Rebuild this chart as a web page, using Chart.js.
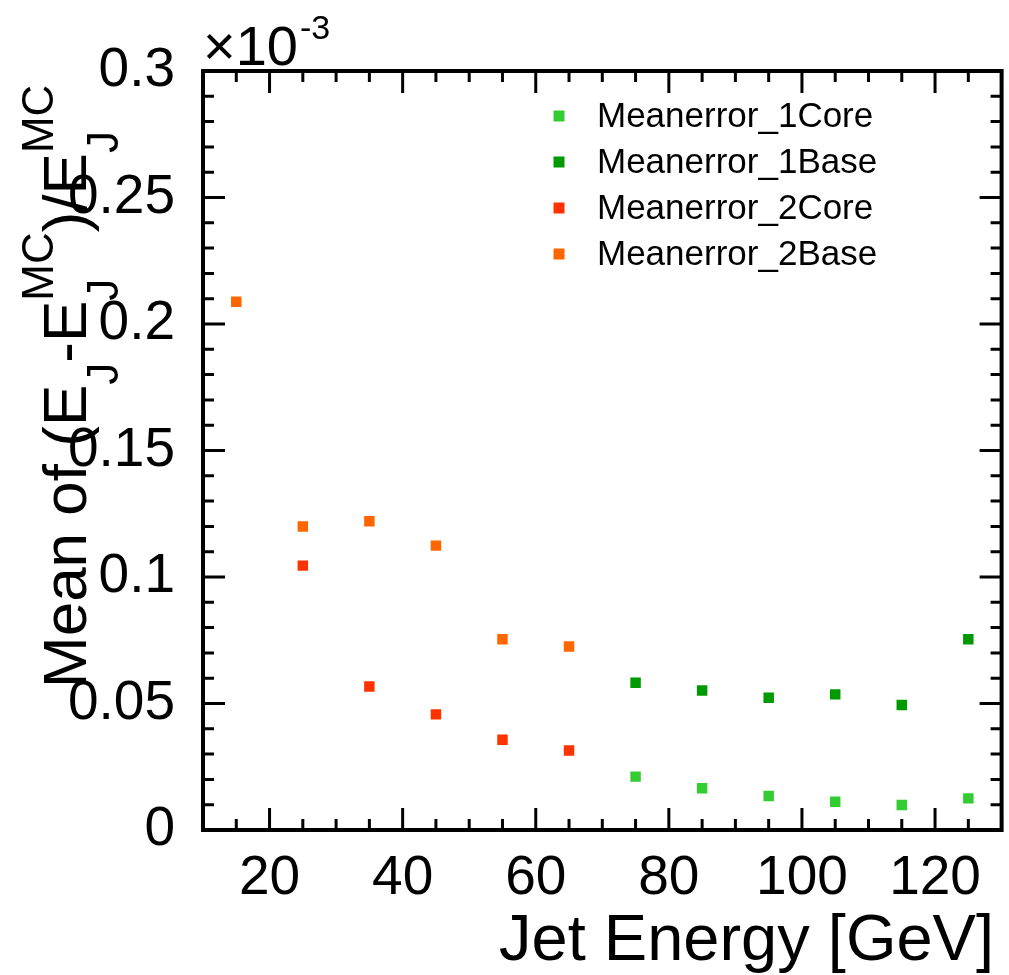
<!DOCTYPE html>
<html>
<head>
<meta charset="utf-8">
<script src="https://cdn.jsdelivr.net/npm/chart.js@4.4.1/dist/chart.umd.min.js"></script>
<style>
  body { margin: 0; background: #fff; }
</style>
</head>
<body>
<canvas id="c" width="1009" height="975"></canvas>
<script>
// data (values are in units of 1e-3)
var energy1 = [75, 85, 95, 105, 115, 125];
var core1 = [0.0211, 0.0165, 0.0134, 0.0112, 0.0099, 0.0125];
var base1 = [0.0582, 0.0551, 0.0523, 0.0536, 0.0494, 0.0754];
var energy2Core = [25, 35, 45, 55, 65];
var core2 = [0.1045, 0.0567, 0.0457, 0.0357, 0.0314];
var energy2Base = [15, 25, 35, 45, 55, 65];
var base2 = [0.2088, 0.1200, 0.1220, 0.1124, 0.0754, 0.0725];

var seriesNames = ["Meanerror_1Core", "Meanerror_1Base", "Meanerror_2Core", "Meanerror_2Base"];
var seriesColors = ["#33cc33", "#009900", "#ff3300", "#ff6600"];

var xTicks = [20, 40, 60, 80, 100, 120];
var yTicks = [0, 0.05, 0.1, 0.15, 0.2, 0.25, 0.3];

var FONT = "'Liberation Sans', Arial, Helvetica, sans-serif";

function pts(xs, ys) {
    return xs.map(function(x, i) { return {x: x, y: ys[i]}; });
}

function makeSet(i, xs, ys) {
    return {
        label: seriesNames[i],
        data: pts(xs, ys),
        pointStyle: 'rect',
        pointRadius: 7.4,
        pointHoverRadius: 7.4,
        borderWidth: 0,
        backgroundColor: seriesColors[i],
        borderColor: seriesColors[i],
        showLine: false
    };
}

// ROOT style frame, inside ticks, titles and legend
var rootStyle = {
    id: 'rootStyle',
    afterDraw: function(chart) {
        var ctx = chart.ctx;
        var a = chart.chartArea;
        var xs = chart.scales.x, ys = chart.scales.y;
        ctx.save();
        ctx.strokeStyle = '#000';
        ctx.lineWidth = 3;
        ctx.beginPath();
        // x ticks every 5, long at multiples of 20
        for (var v = 10; v <= 130; v += 5) {
            var px = xs.getPixelForValue(v);
            var len = (v % 20 === 0) ? 22 : 11;
            ctx.moveTo(px, a.bottom); ctx.lineTo(px, a.bottom - len);
            ctx.moveTo(px, a.top); ctx.lineTo(px, a.top + len);
        }
        // y ticks every 0.01, long every 0.05
        for (var k = 0; k <= 30; k++) {
            var py = ys.getPixelForValue(k / 100);
            var l = (k % 5 === 0) ? 22 : 11;
            ctx.moveTo(a.left, py); ctx.lineTo(a.left + l, py);
            ctx.moveTo(a.right, py); ctx.lineTo(a.right - l, py);
        }
        ctx.stroke();
        ctx.lineWidth = 4;
        ctx.strokeRect(a.left, a.top, a.right - a.left, a.bottom - a.top);

        ctx.fillStyle = '#000';
        // exponent label
        ctx.textAlign = 'left';
        ctx.textBaseline = 'alphabetic';
        ctx.font = '56px ' + FONT;
        ctx.fillText('\u00d710', 203, 65);
        var w = ctx.measureText('\u00d710').width;
        ctx.font = '34px ' + FONT;
        ctx.fillText('-3', 203 + w + 2, 39);

        // x title
        ctx.font = '65px ' + FONT;
        ctx.textAlign = 'right';
        ctx.fillText('Jet Energy [GeV]', 994, 960);

        // y title with sub/superscripts
        var parts = [
            {t: 'Mean of (E'}, {sub: 'J'}, {t: '-E'}, {sub: 'J', sup: 'MC'},
            {t: ')/E'}, {sub: 'J', sup: 'MC'}
        ];
        ctx.save();
        ctx.translate(86, 688);
        ctx.rotate(-Math.PI / 2);
        ctx.textAlign = 'left';
        var cx = 0;
        parts.forEach(function(p) {
            if (p.t) {
                ctx.font = '62px ' + FONT;
                ctx.fillText(p.t, cx, 0);
                cx += ctx.measureText(p.t).width;
            } else {
                ctx.font = '44px ' + FONT;
                var w1 = 0, w2 = 0;
                if (p.sub) { ctx.fillText(p.sub, cx, 32); w1 = ctx.measureText(p.sub).width; }
                if (p.sup) { ctx.fillText(p.sup, cx, -33); w2 = ctx.measureText(p.sup).width; }
                cx += Math.max(w1, w2);
            }
        });
        ctx.restore();

        // legend
        ctx.font = '35px ' + FONT;
        ctx.textAlign = 'left';
        chart.data.datasets.forEach(function(ds, i) {
            var rowY = 116 + i * 46;
            ctx.fillStyle = ds.backgroundColor;
            ctx.fillRect(559 - 5.5, rowY - 5.5, 11, 11);
            ctx.fillStyle = '#000';
            ctx.fillText(ds.label, 597, rowY + 11);
        });
        ctx.restore();
    }
};

var chart = new Chart(document.getElementById('c').getContext('2d'), {
    type: 'scatter',
    data: {
        datasets: [
            makeSet(0, energy1, core1),
            makeSet(1, energy1, base1),
            makeSet(2, energy2Core, core2),
            makeSet(3, energy2Base, base2)
        ]
    },
    options: {
        responsive: false,
        animation: false,
        layout: { padding: { top: 71, right: 7, left: 0, bottom: 0 } },
        plugins: {
            legend: { display: false },
            tooltip: { enabled: false }
        },
        scales: {
            x: {
                type: 'linear',
                min: 10,
                max: 130,
                grid: { display: false },
                border: { display: false },
                afterBuildTicks: function(s) { s.ticks = xTicks.map(function(v) { return {value: v}; }); },
                afterFit: function(s) { s.height = 145; },
                ticks: {
                    color: '#000',
                    font: { family: FONT, size: 55 },
                    padding: 8,
                    autoSkip: false,
                    maxRotation: 0
                }
            },
            y: {
                type: 'linear',
                min: 0,
                max: 0.3,
                grid: { display: false },
                border: { display: false },
                afterBuildTicks: function(s) { s.ticks = yTicks.map(function(v) { return {value: v}; }); },
                afterFit: function(s) { s.width = 203; },
                ticks: {
                    color: '#000',
                    font: { family: FONT, size: 55 },
                    padding: 20,
                    callback: function(v) { return String(Number(v.toFixed(2))); }
                }
            }
        }
    },
    plugins: [rootStyle]
});
</script>
</body>
</html>
